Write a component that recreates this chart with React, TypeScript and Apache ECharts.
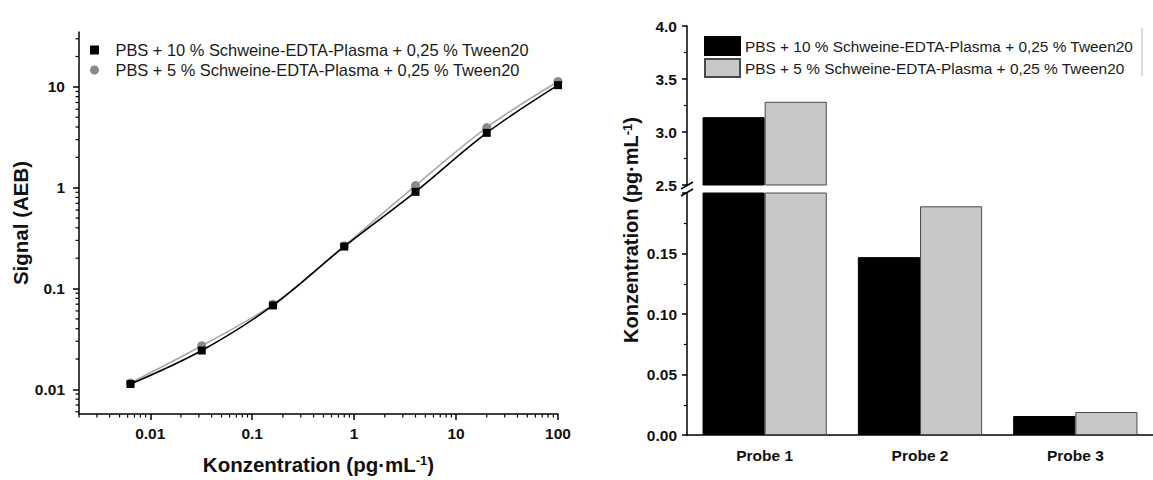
import React, { useEffect, useRef } from 'react';
import * as echarts from 'echarts';

// ---------- data ----------
const seriesNames = [
  'PBS + 10 % Schweine-EDTA-Plasma + 0,25 % Tween20',
  'PBS + 5 % Schweine-EDTA-Plasma + 0,25 % Tween20',
];
const concentrations = [0.0064, 0.032, 0.16, 0.8, 4, 20, 100];
const signal10 = [0.0113, 0.0243, 0.068, 0.261, 0.91, 3.5, 10.4];
const signal5 = [0.0116, 0.0271, 0.0697, 0.265, 1.05, 3.95, 11.3];

const probes = ['Probe 1', 'Probe 2', 'Probe 3'];
const conc10 = [3.14, 0.147, 0.0157];
const conc5 = [3.285, 0.189, 0.019];

const xLogRange = [0.002, 100];
const yLogRange = [0.0057, 35];
const upperRange = [2.5, 4.0];
const lowerRange = [0, 0.2];
const minorMultipliers = [2, 3, 4, 5, 6, 7, 8, 9];
const decades = [-3, -2, -1, 0, 1, 2];

const FONT = 'Liberation Sans, Arial, Helvetica, sans-serif';
const BAR_PREFIX = 'B|';

function minorLogTicks(min: number, max: number): number[] {
  const out: number[] = [];
  for (const e of decades) {
    for (const m of minorMultipliers) {
      const v = parseFloat((m * Math.pow(10, e)).toPrecision(3));
      if (v >= min && v <= max) out.push(v);
    }
  }
  return out;
}

export default function App() {
  const ref = useRef<HTMLDivElement>(null);

  useEffect(() => {
    if (!ref.current) return;
    const chart = echarts.init(ref.current, undefined, { renderer: 'svg' });

    const axisLine = { lineStyle: { color: '#000', width: 1.5 } };
    const tickStyle = { color: '#000', width: 1.5 };
    const labelStyle = { color: '#111', fontSize: 15.5, fontWeight: 'bold' as const, fontFamily: FONT };
    const supRich = {
      sup: { fontSize: 13, fontWeight: 'bold' as const, fontFamily: FONT, color: '#111', verticalAlign: 'top' as const, padding: [0, 0, 8, 0] },
    };

    const xMinor = minorLogTicks(xLogRange[0], xLogRange[1]);
    const yMinor = minorLogTicks(yLogRange[0], yLogRange[1]);

    const option: any = {
      animation: false,
      textStyle: { fontFamily: FONT },
      grid: [
        { left: 79, top: 32, width: 479, height: 385 },
        { left: 687, top: 26, right: 0, height: 159 },
        { left: 687, top: 193, right: 0, height: 242 },
      ],
      legend: [
        {
          data: [
            { name: seriesNames[0], icon: 'path://M0,0H10V10H0Z' },
            { name: seriesNames[1], icon: 'circle' },
          ],
          orient: 'vertical',
          left: 85,
          top: 36,
          itemWidth: 32,
          itemHeight: 9,
          itemGap: 2,
          selectedMode: false,
          textStyle: { fontSize: 16.4, color: '#1a1a1a', fontFamily: FONT, lineHeight: 18 },
        },
        {
          data: seriesNames.map((n) => ({ name: BAR_PREFIX + n, icon: 'rect' })),
          formatter: (n: string) => n.slice(BAR_PREFIX.length),
          orient: 'vertical',
          left: 699,
          top: 31,
          itemWidth: 35,
          itemHeight: 18,
          itemGap: 2,
          selectedMode: false,
          textStyle: { fontSize: 15.4, color: '#1a1a1a', fontFamily: FONT, lineHeight: 18 },
        },
      ],
      xAxis: [
        {
          type: 'log',
          gridIndex: 0,
          min: xLogRange[0],
          max: xLogRange[1],
          logBase: 10,
          axisLine,
          axisTick: { length: 6, lineStyle: tickStyle },
          splitLine: { show: false },
          axisLabel: {
            ...labelStyle,
            margin: 11,
            showMinLabel: false,
            formatter: (v: number) => String(parseFloat(v.toPrecision(6))),
          },
          name: 'Konzentration (pg·mL{sup|-1})',
          nameLocation: 'middle',
          nameGap: 40,
          nameTextStyle: { fontSize: 20.5, fontWeight: 'bold', color: '#111', fontFamily: FONT, rich: supRich },
        },
        { type: 'category', gridIndex: 1, data: probes, show: false },
        {
          type: 'category',
          gridIndex: 2,
          data: probes,
          position: 'bottom',
          axisLine,
          axisTick: { alignWithLabel: true, length: 6, lineStyle: tickStyle },
          axisLabel: { ...labelStyle, margin: 12 },
        },
        {
          type: 'category',
          gridIndex: 2,
          data: probes,
          position: 'bottom',
          axisLine: { show: false },
          axisTick: { length: 4, lineStyle: tickStyle },
          axisLabel: { show: false },
        },
      ],
      yAxis: [
        {
          type: 'log',
          gridIndex: 0,
          min: yLogRange[0],
          max: yLogRange[1],
          logBase: 10,
          axisLine: { show: true, ...axisLine },
          axisTick: { show: true, length: 6, lineStyle: tickStyle },
          splitLine: { show: false },
          axisLabel: {
            ...labelStyle,
            margin: 14,
            showMinLabel: false,
            showMaxLabel: false,
            formatter: (v: number) => String(parseFloat(v.toPrecision(6))),
          },
          name: 'Signal (AEB)',
          nameLocation: 'middle',
          nameGap: 39,
          nameTextStyle: { fontSize: 20.5, fontWeight: 'bold', color: '#111', fontFamily: FONT },
        },
        {
          type: 'value',
          gridIndex: 1,
          min: upperRange[0],
          max: upperRange[1],
          interval: 0.5,
          axisLine: { show: true, ...axisLine },
          axisTick: { show: true, length: 5, lineStyle: tickStyle },
          minorTick: { show: true, splitNumber: 2, length: 3, lineStyle: { color: '#000', width: 1.2 } },
          splitLine: { show: false },
          axisLabel: { ...labelStyle, margin: 10, formatter: (v: number) => v.toFixed(1) },
        },
        {
          type: 'value',
          gridIndex: 2,
          min: lowerRange[0],
          max: lowerRange[1],
          interval: 0.05,
          axisLine: { show: true, ...axisLine },
          axisTick: { show: true, length: 5, lineStyle: tickStyle },
          minorTick: { show: true, splitNumber: 2, length: 3, lineStyle: { color: '#000', width: 1.2 } },
          splitLine: { show: false },
          axisLabel: { ...labelStyle, margin: 10, showMaxLabel: false, formatter: (v: number) => v.toFixed(2) },
        },
      ],
      series: [
        {
          type: 'line',
          name: seriesNames[1],
          xAxisIndex: 0,
          yAxisIndex: 0,
          data: concentrations.map((c, i) => [c, signal5[i]]),
          smooth: 0.35,
          symbol: 'circle',
          symbolSize: 9,
          itemStyle: { color: '#8a8a8a' },
          lineStyle: { color: '#a8a8a8', width: 1.6 },
          z: 2,
        },
        {
          type: 'line',
          name: seriesNames[0],
          xAxisIndex: 0,
          yAxisIndex: 0,
          data: concentrations.map((c, i) => [c, signal10[i]]),
          smooth: 0.35,
          symbol: 'rect',
          symbolSize: 8,
          itemStyle: { color: '#000' },
          lineStyle: { color: '#000', width: 1.6 },
          z: 3,
        },
        {
          type: 'custom',
          name: 'xMinorTicks',
          xAxisIndex: 0,
          yAxisIndex: 0,
          silent: true,
          clip: false,
          data: xMinor.map((v) => [v, yLogRange[0]]),
          encode: { x: 0, y: 1 },
          renderItem: (_p: any, api: any) => {
            const pt = api.coord([api.value(0), yLogRange[0]]);
            return {
              type: 'line',
              shape: { x1: pt[0], y1: pt[1], x2: pt[0], y2: pt[1] + 3.5 },
              style: { stroke: '#000', lineWidth: 1.2 },
            };
          },
        },
        {
          type: 'custom',
          name: 'yMinorTicks',
          xAxisIndex: 0,
          yAxisIndex: 0,
          silent: true,
          clip: false,
          data: yMinor.map((v) => [xLogRange[0], v]),
          encode: { x: 0, y: 1 },
          renderItem: (_p: any, api: any) => {
            const pt = api.coord([xLogRange[0], api.value(1)]);
            return {
              type: 'line',
              shape: { x1: pt[0], y1: pt[1], x2: pt[0] - 3.5, y2: pt[1] },
              style: { stroke: '#000', lineWidth: 1.2 },
            };
          },
        },
        {
          type: 'bar',
          name: BAR_PREFIX + seriesNames[0],
          xAxisIndex: 1,
          yAxisIndex: 1,
          data: conc10.map((v) => (v >= upperRange[0] ? v : '-')),
          barGap: '0%',
          barCategoryGap: '20%',
          itemStyle: { color: '#000', borderColor: '#000', borderWidth: 1 },
        },
        {
          type: 'bar',
          name: BAR_PREFIX + seriesNames[1],
          xAxisIndex: 1,
          yAxisIndex: 1,
          data: conc5.map((v) => (v >= upperRange[0] ? v : '-')),
          barGap: '0%',
          barCategoryGap: '20%',
          itemStyle: { color: '#c8c8c8', borderColor: '#4a4a4a', borderWidth: 1 },
        },
        {
          type: 'bar',
          name: BAR_PREFIX + seriesNames[0],
          xAxisIndex: 2,
          yAxisIndex: 2,
          data: conc10,
          barGap: '0%',
          barCategoryGap: '20%',
          itemStyle: { color: '#000', borderColor: '#000', borderWidth: 1 },
        },
        {
          type: 'bar',
          name: BAR_PREFIX + seriesNames[1],
          xAxisIndex: 2,
          yAxisIndex: 2,
          data: conc5,
          barGap: '0%',
          barCategoryGap: '20%',
          itemStyle: { color: '#c8c8c8', borderColor: '#4a4a4a', borderWidth: 1 },
        },
      ],
      graphic: [
        {
          type: 'text',
          x: 631,
          y: 230,
          rotation: Math.PI / 2,
          style: {
            text: 'Konzentration (pg·mL{sup|-1})',
            fontSize: 20,
            fontWeight: 'bold',
            fontFamily: FONT,
            fill: '#111',
            align: 'center',
            verticalAlign: 'middle',
            rich: supRich,
          },
        },
        { type: 'line', shape: { x1: 681, y1: 189, x2: 693, y2: 182 }, style: { stroke: '#000', lineWidth: 1.5 } },
        { type: 'line', shape: { x1: 681, y1: 196, x2: 693, y2: 189 }, style: { stroke: '#000', lineWidth: 1.5 } },
        { type: 'line', shape: { x1: 1142, y1: 28, x2: 1142, y2: 76 }, style: { stroke: '#bbbbbb', lineWidth: 1 } },
      ],
    };

    chart.setOption(option);
    return () => chart.dispose();
  }, []);

  return (
    <div
      ref={ref}
      style={{ position: 'fixed', left: 0, top: 0, width: 1153, height: 480, background: '#fff' }}
    />
  );
}
